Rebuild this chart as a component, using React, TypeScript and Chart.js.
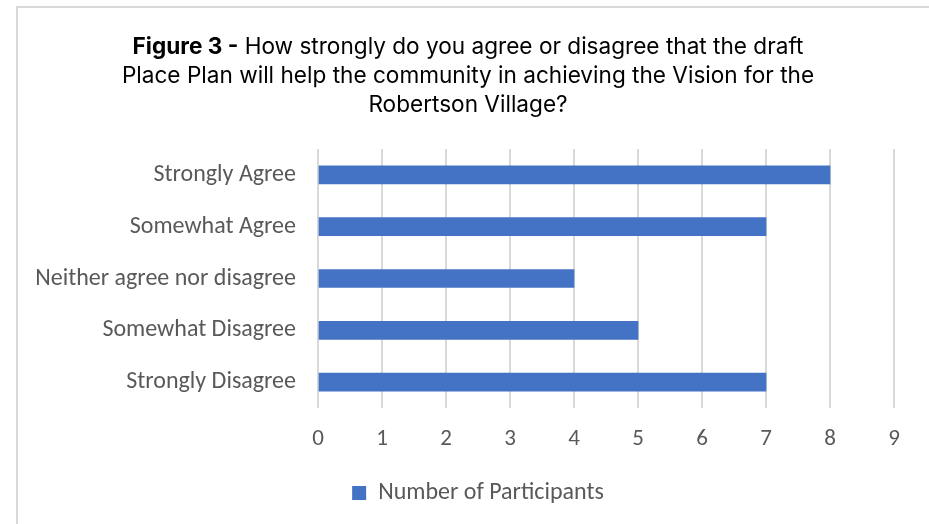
import React, { useEffect, useRef } from "react";
import { Chart, registerables } from "chart.js";

Chart.register(...registerables);

const categories = [
  "Strongly Agree",
  "Somewhat Agree",
  "Neither agree nor disagree",
  "Somewhat Disagree",
  "Strongly Disagree",
];
const participants = [8, 7, 4, 5, 7];
const seriesName = "Number of Participants";
const titleBold = "Figure 3 -";
const titleRest = [
  " How strongly do you agree or disagree that the draft",
  "Place Plan will help the community in achieving the Vision for the",
  "Robertson Village?",
];

const LABEL_FONT = "Calibri, Carlito, 'Open Sans', sans-serif";
const TITLE_FONT = "Inter, sans-serif";

const legendShift = {
  id: "legendShift",
  afterLayout(chart: any) {
    const l = chart.legend;
    if (l) {
      l.left += 31;
      l.right += 31;
    }
  },
};

export default function App() {
  const canvasRef = useRef<HTMLCanvasElement | null>(null);

  useEffect(() => {
    document.body.style.margin = "0";
    const ctx = canvasRef.current!;
    const chart = new Chart(ctx, {
      type: "bar",
      data: {
        labels: categories,
        datasets: [
          {
            label: seriesName,
            data: participants,
            backgroundColor: "#4472c4",
            borderWidth: 0,
            barThickness: 18,
          },
        ],
      },
      plugins: [legendShift],
      options: {
        indexAxis: "y",
        animation: false,
        responsive: false,
        maintainAspectRatio: false,
        layout: { padding: { top: 149, left: 0, right: 35, bottom: 9 } },
        plugins: {
          title: { display: false },
          tooltip: { enabled: false },
          legend: {
            position: "bottom",
            labels: {
              boxWidth: 14,
              boxHeight: 14,
              color: "#595959",
              font: { family: LABEL_FONT, size: 24 },
              padding: 6,
            },
          },
        },
        scales: {
          x: {
            min: 0,
            max: 9,
            ticks: {
              stepSize: 1,
              color: "#595959",
              font: { family: LABEL_FONT, size: 23 },
              padding: 17,
            },
            grid: { color: "#d9d9d9", lineWidth: 2, drawTicks: false },
            border: { display: false },
            afterFit: (s: any) => {
              s.height = 67;
            },
          },
          y: {
            ticks: {
              color: "#595959",
              font: { family: LABEL_FONT, size: 24 },
              padding: 22,
            },
            grid: { display: false, drawTicks: false },
            border: { display: false },
            afterFit: (s: any) => {
              s.width = 318;
            },
          },
        },
      },
    });
    return () => chart.destroy();
  }, []);

  return (
    <div style={{ position: "relative", width: 929, height: 524, overflow: "hidden", background: "#fff" }}>
      <div
        style={{
          position: "absolute",
          left: 16,
          top: 6,
          width: 940,
          height: 540,
          borderTop: "2px solid #d9d9d9",
          borderLeft: "2px solid #d9d9d9",
        }}
      />
      <canvas ref={canvasRef} width={929} height={524} style={{ position: "absolute", left: 0, top: 0 }} />
      <div
        style={{
          position: "absolute",
          left: 17,
          top: 31,
          width: 902,
          textAlign: "center",
          fontFamily: TITLE_FONT,
          fontSize: 22.6,
          lineHeight: "29px",
          color: "#000",
        }}
      >
        <div>
          <span style={{ fontWeight: 700 }}>{titleBold}</span>
          {titleRest[0]}
        </div>
        <div>{titleRest[1]}</div>
        <div>{titleRest[2]}</div>
      </div>
    </div>
  );
}
